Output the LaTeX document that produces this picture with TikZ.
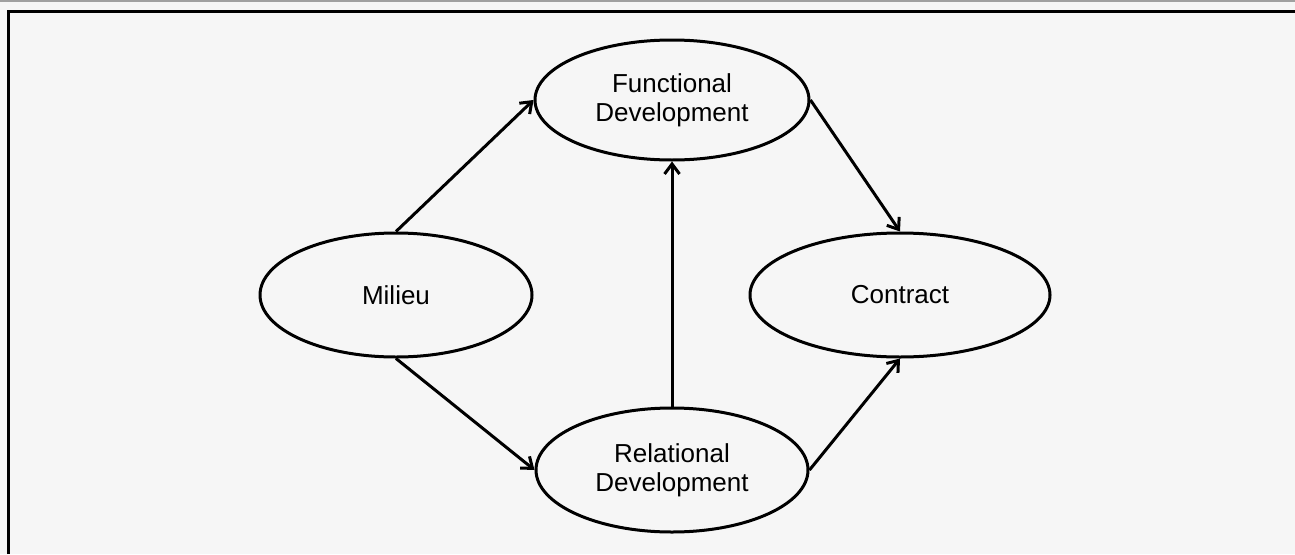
\documentclass[tikz,border=0pt]{standalone}
\usepackage{fontspec}
\setmainfont{Liberation Sans}
\usetikzlibrary{shapes.geometric, arrows.meta}

\begin{document}
\begin{tikzpicture}[x=1pt, y=-1pt,
    phase/.style={ellipse, draw, line width=3pt, inner sep=0pt, align=center,
        font=\fontsize{26}{29}\selectfont},
    flow/.style={line width=3pt, -{Straight Barb[length=10pt, width=15pt, line width=3pt]}}]
                \useasboundingbox (0,0) rectangle (1295,554);
\fill [fill={rgb, 255:red, 246; green, 246; blue, 246 }] (0,0) rectangle (1295,554);

\draw [draw={rgb, 255:red, 160; green, 160; blue, 160 }, line width=2pt] (0,1) -- (1295,1);
\draw [line width=3pt] (8,554) -- (8,11) -- (1295,11);

\node (milieu)   [phase, minimum width=272, minimum height=124] at (396,295) {Milieu};
\node (func)     [phase, minimum width=274, minimum height=120] at (672,100) {Functional\\Development};
\node (rel)      [phase, minimum width=272, minimum height=124] at (672,470) {Relational\\Development};
\node (contract) [phase, minimum width=300, minimum height=124] at (900,295) {Contract};

\draw [flow] (milieu.north) -- (func.west);
\draw [flow] (milieu.south) -- (rel.west);
\draw [flow] (rel.north) -- (func.south);
\draw [flow] (func.east) -- (contract.north);
\draw [flow] (rel.east) -- (contract.south);

            \end{tikzpicture}
\end{document}
